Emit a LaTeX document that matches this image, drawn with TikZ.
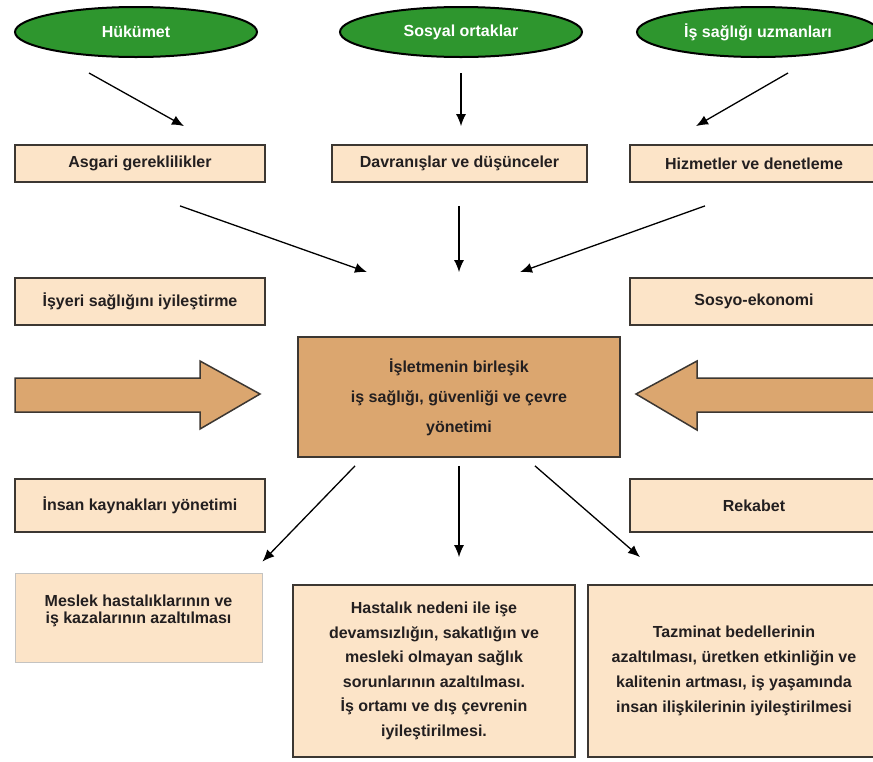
\documentclass[tikz,border=0pt]{standalone}
\usepackage{fontspec}
\setmainfont{Liberation Sans}
\usetikzlibrary{calc}
\usetikzlibrary{shapes.geometric}
\usetikzlibrary{arrows.meta}

\definecolor{peach}{RGB}{252,228,200}
\definecolor{boxtan}{RGB}{219,166,111}
\definecolor{leaf}{RGB}{46,150,46}
\definecolor{rim}{RGB}{60,55,50}
\definecolor{ink}{RGB}{35,31,32}

\begin{document}
\begin{tikzpicture}[x=1pt, y=-1pt, font=\fontsize{16}{19}\selectfont\bfseries,
    actor/.style={ellipse, draw=black, line width=2pt, fill=leaf, text=white,
      minimum width=242pt, minimum height=50pt, inner sep=0pt},
    item/.style={rectangle, draw=rim, line width=1.8pt, fill=peach, text=ink, inner sep=0pt},
    goal/.style={item, align=center},
    flow/.style={-{Latex[length=12pt, width=10pt]}, line width=1.3pt, black},
    block/.style={draw=rim, line width=1.5pt, fill=boxtan, line join=miter}]

    % page
    \fill[white] (0, 0) rectangle (873, 761);
    \useasboundingbox (0, 0) rectangle (873, 761);

    % stakeholders
    \node[actor] (huk) at (136, 32) {Hükümet};
    \node[actor] (sos) at (461, 32) {Sosyal ortaklar};
    \node[actor] (uzm) at (758, 32) {İş sağlığı uzmanları};

    % what they bring
    \node[item, minimum width=250pt, minimum height=37pt] (asg) at (140, 163.5) {Asgari gereklilikler};
    \node[item, minimum width=255pt, minimum height=37pt] (dav) at (459.5, 163.5) {Davranışlar ve düşünceler};
    \node[item, minimum width=248pt, minimum height=37pt] (hiz) at (754, 163.5) {Hizmetler ve denetleme};

    \draw[flow] ($(huk.south) + (-47, 15)$) -- ($(asg.north) + (44, -18)$);
    \draw[flow] ($(sos.south) + (0, 15)$) -- ($(sos.south |- dav.north) + (0, -18)$);
    \draw[flow] ($(uzm.south) + (30, 15)$) -- ($(hiz.north) + (-58, -18)$);

    % side factors
    \node[item, minimum width=250pt, minimum height=47pt] (iyi) at (140, 301.5) {İşyeri sağlığını iyileştirme};
    \node[item, minimum width=248pt, minimum height=47pt] (sek) at (754, 301.5) {Sosyo-ekonomi};
    \node[item, minimum width=250pt, minimum height=53pt] (ins) at (140, 505.5) {İnsan kaynakları yönetimi};
    \node[item, minimum width=248pt, minimum height=53pt] (rek) at (754, 505.5) {Rekabet};

    % central management box
    \node[goal, fill=boxtan, minimum width=322pt, minimum height=120pt,
      font=\fontsize{16}{30}\selectfont\bfseries] (mrk) at (459, 397)
      {İşletmenin birleşik\\iş sağlığı, güvenliği ve çevre\\yönetimi};

    \draw[flow] ($(asg.south) + (40, 23)$) -- ($(mrk.north) + (-92, -64)$);
    \draw[flow] ($(mrk.north |- dav.south) + (0, 23)$) -- ($(mrk.north) + (0, -64)$);
    \draw[flow] ($(hiz.south) + (-49, 23)$) -- ($(mrk.north) + (61, -64)$);

    % big side arrows
    \draw[block] (15, 378) -- (200, 378) -- (200, 361) -- (260, 394) -- (200, 429) -- (200, 412) -- (15, 412) -- cycle;
    \draw[block] (880, 378) -- (697, 378) -- (697, 361) -- (636, 394) -- (697, 430) -- (697, 412) -- (880, 412) -- cycle;

    % results
    \node[goal, draw=rim!30, line width=0.8pt, minimum width=247pt, minimum height=89pt, text depth=16pt,
      font=\fontsize{16}{17}\selectfont\bfseries] (mes) at (138.5, 617.5)
      {Meslek hastalıklarının ve\\iş kazalarının azaltılması};
    \node[goal, minimum width=282pt, minimum height=172pt,
      font=\fontsize{16}{24.5}\selectfont\bfseries] (has) at (434, 671)
      {Hastalık nedeni ile işe\\devamsızlığın, sakatlığın ve\\mesleki olmayan sağlık\\sorunlarının azaltılması.\\İş ortamı ve dış çevrenin\\iyileştirilmesi.};
    \node[goal, minimum width=292pt, minimum height=172pt,
      font=\fontsize{16}{25}\selectfont\bfseries] (taz) at (734, 671)
      {Tazminat bedellerinin\\azaltılması, üretken etkinliğin ve\\kalitenin artması, iş yaşamında\\insan ilişkilerinin iyileştirilmesi};

    \draw[flow] ($(mrk.south) + (-104, 8)$) -- ($(mes.north east) + (0, -11)$);
    \draw[flow] ($(mrk.south) + (0, 8)$) -- ($(mrk.south |- has.north) + (0, -27)$);
    \draw[flow] ($(mrk.south) + (76, 8)$) -- ($(taz.north) + (-94, -27)$);

\end{tikzpicture}
\end{document}
